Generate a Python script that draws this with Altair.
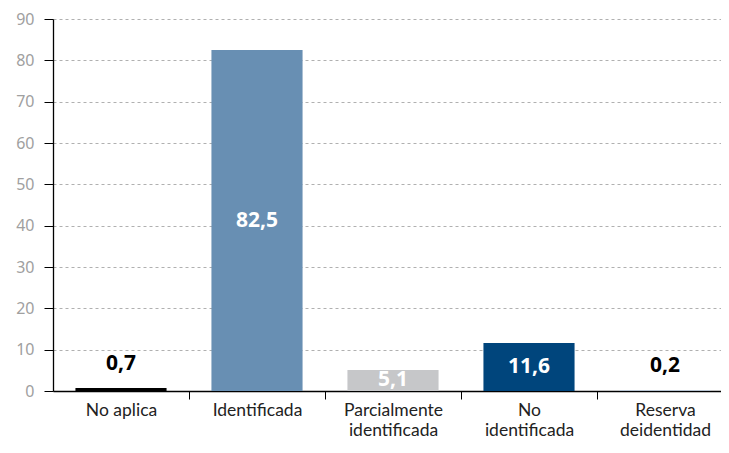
import altair as alt
import pandas as pd

categories = ["No aplica", "Identificada", "Parcialmente|identificada", "No|identificada", "Reserva|deidentidad"]
values = [0.7, 82.5, 5.1, 11.6, 0.2]
colors = ["#000000", "#688fb3", "#c6c7c9", "#00457c", "#b7c7d9"]
label_colors = ["#000000", "#ffffff", "#ffffff", "#ffffff", "#000000"]
labels = ["0,7", "82,5", "5,1", "11,6", "0,2"]

df = pd.DataFrame({"cat": categories, "value": values, "color": colors,
                   "lcolor": label_colors, "label": labels})

FONT = "Noto Sans"
XFONT = "Lato"

x = alt.X("cat:N", sort=categories, title=None,
          scale=alt.Scale(paddingInner=0.33, paddingOuter=0.165, range=[0, 680]),
          axis=alt.Axis(labelExpr="split(datum.label, '|')", labelAngle=0,
                        labelFontSize=17.5, labelColor="#222222", labelFont=XFONT,
                        labelLineHeight=20.5, labelPadding=2, labelBaseline="top",
                        tickOffset=68, labelOffset=-68, tickSize=8, tickColor="#000000",
                        domainColor="#000000", grid=False))

bars = alt.Chart(df).mark_bar().encode(
    x=x,
    y=alt.Y("value:Q", title=None,
            scale=alt.Scale(domain=[0, 90], nice=False),
            axis=alt.Axis(values=list(range(0, 91, 10)), labelFontSize=16,
                          labelColor="#a0a0a0", labelFont=FONT, labelPadding=10,
                          tickSize=9, tickColor="#000000", domainColor="#000000",
                          gridDash=[3, 3], gridColor="#b0b0b0")),
    color=alt.Color("color:N", scale=None),
)

text = alt.Chart(df).transform_calculate(
    ypos="datum.value < 2 ? datum.value + 5.8 : datum.value / 2"
).mark_text(fontSize=21, fontWeight="bold", font=FONT, baseline="middle").encode(
    x=alt.X("cat:N", sort=categories),
    y=alt.Y("ypos:Q"),
    text="label:N",
    color=alt.Color("lcolor:N", scale=None),
)

chart = (bars + text).properties(
    width=668, height=372,
    autosize=alt.AutoSizeParams(type="none"),
    padding={"left": 45, "top": 11, "right": 0, "bottom": 50},
).configure_view(stroke=None).configure_axis(domainWidth=1.3)

chart.save("out.html", embed_options={"renderer": "svg", "actions": False})
